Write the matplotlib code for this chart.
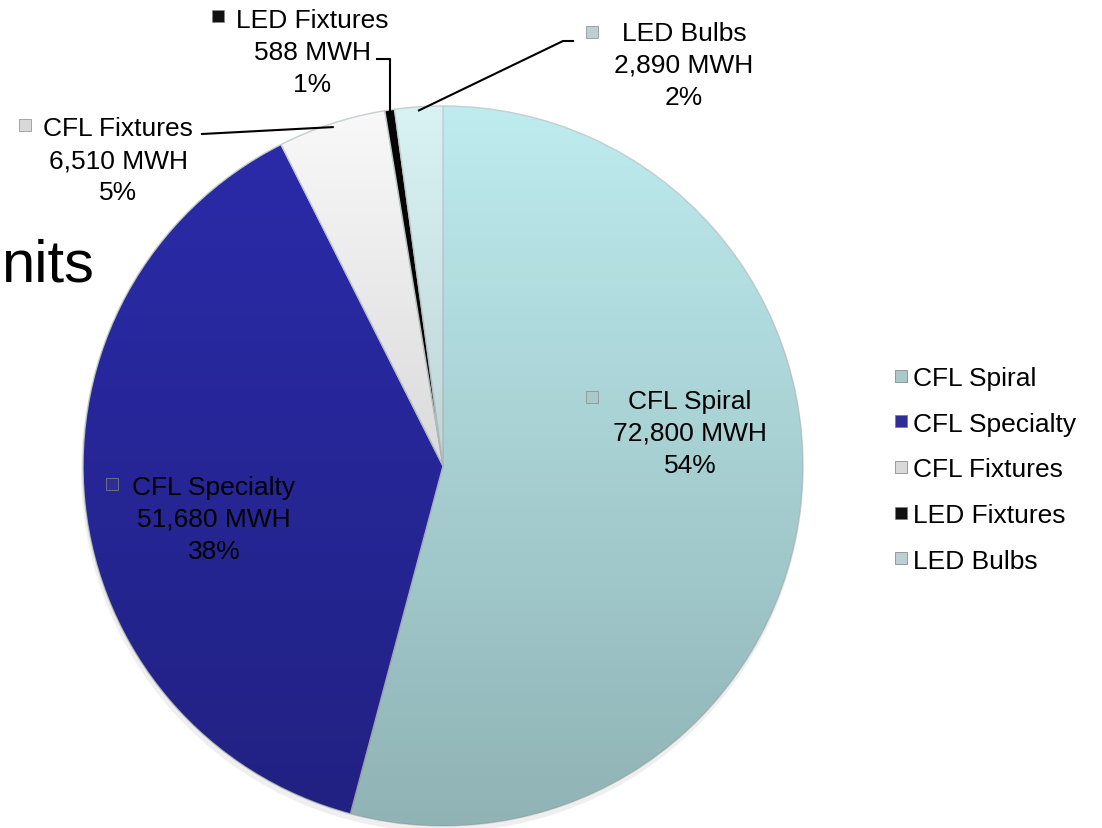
import matplotlib
matplotlib.use('Agg')
import matplotlib.pyplot as plt
import numpy as np
from matplotlib.lines import Line2D
from matplotlib.patches import Circle

# ---- data ----
categories = ['CFL Spiral', 'CFL Specialty', 'CFL Fixtures', 'LED Fixtures', 'LED Bulbs']
mwh = [72800, 51680, 6510, 588, 2890]
mwh_labels = ['72,800 MWH', '51,680 MWH', '6,510 MWH', '588 MWH', '2,890 MWH']
pct_labels = ['54%', '38%', '5%', '1%', '2%']

colors = ['#bdebee', '#2b2bab', '#f8f8f8', '#060606', '#d8f2f4']
marker_colors = ['#a9c9cb', '#2e2e96', '#d9d9d9', '#111111', '#bccfd2']

FONT = 'Liberation Sans'
FS = 19

W, H = 1102, 829
fig = plt.figure(figsize=(W / 100, H / 100), dpi=100)
ax = fig.add_axes([0, 0, 1, 1])

cx, cy, R = 443, H - 467, 360

# soft shadow
shadow = Circle((cx - 1, cy - 5), R + 1, facecolor='#efefef', edgecolor='none', zorder=0.5)
ax.add_patch(shadow)

wedges, _ = ax.pie(mwh, colors=colors, startangle=90, counterclock=False,
                   center=(cx, cy), radius=R,
                   wedgeprops=dict(edgecolor='#c5cfcf', linewidth=1.0))

# vertical shading gradient over the pie
grad = np.zeros((256, 1, 4))
grad[:, 0, 3] = np.linspace(0.0, 0.24, 256)
im = ax.imshow(grad, extent=(cx - R, cx + R, cy - R, cy + R), origin='upper',
               aspect='auto', zorder=1.5, interpolation='bilinear')
im.set_clip_path(Circle((cx, cy), R, transform=ax.transData))

ax.set_xlim(0, W)
ax.set_ylim(0, H)
ax.set_aspect('equal')
ax.axis('off')


def py(y):
    return H - y


# label block positions (layout, pixel coords: center x, center y of block)
label_pos = [(690, 434), (214, 520), (118, 161), (312, 53), (684, 66)]
marker_pos = [(592, 398), (112, 485), (25, 126), (218, 17), (592, 33)]

for i, w in enumerate(wedges):
    bx, by = label_pos[i]
    ax.text(bx, py(by),
            f"{categories[i]}\n{mwh_labels[i]}\n{pct_labels[i]}",
            ha='center', va='center', fontsize=FS, family=FONT,
            color='black', linespacing=1.42, zorder=5)
    mx, my = marker_pos[i]
    ax.plot([mx], [py(my)], marker='s', markersize=8, color=marker_colors[i],
            markeredgecolor='#888888', markeredgewidth=0.5, zorder=5)

# leader lines for small slices, anchored at wedge mid-angle on the rim
def rim(w, f=1.0):
    ang = np.deg2rad((w.theta1 + w.theta2) / 2)
    return cx + f * R * np.cos(ang), cy + f * R * np.sin(ang)

# CFL Fixtures
ax0, ay0 = rim(wedges[2], 0.99)
ax.plot([202, ax0], [py(135), ay0], color='black', lw=1.5, zorder=6)
# LED Fixtures
ax1, ay1 = rim(wedges[3], 0.99)
ax.plot([377, ax1, ax1], [py(60), py(60), ay1], color='black', lw=1.5, zorder=6)
# LED Bulbs
ax2, ay2 = rim(wedges[4], 0.99)
ax.plot([573, 563, ax2], [py(42), py(42), ay2], color='black', lw=1.5, zorder=6)

# partially visible title fragment
ax.text(1, py(281), 'nits', ha='left', va='baseline', fontsize=43,
        family=FONT, color='black')

# legend
handles = [Line2D([], [], linestyle='none', marker='s', markersize=9,
                  markerfacecolor=marker_colors[i], markeredgecolor='#7a7a7a',
                  markeredgewidth=0.5) for i in range(len(categories))]
leg = ax.legend(handles, categories, loc='upper left',
                bbox_to_anchor=(893 / W, 1 - 367 / H), frameon=False,
                prop={'family': FONT, 'size': FS}, handlelength=0.6,
                handletextpad=0.15, labelspacing=0.82, borderpad=0,
                borderaxespad=0)

fig.savefig('out.png', dpi=100)
